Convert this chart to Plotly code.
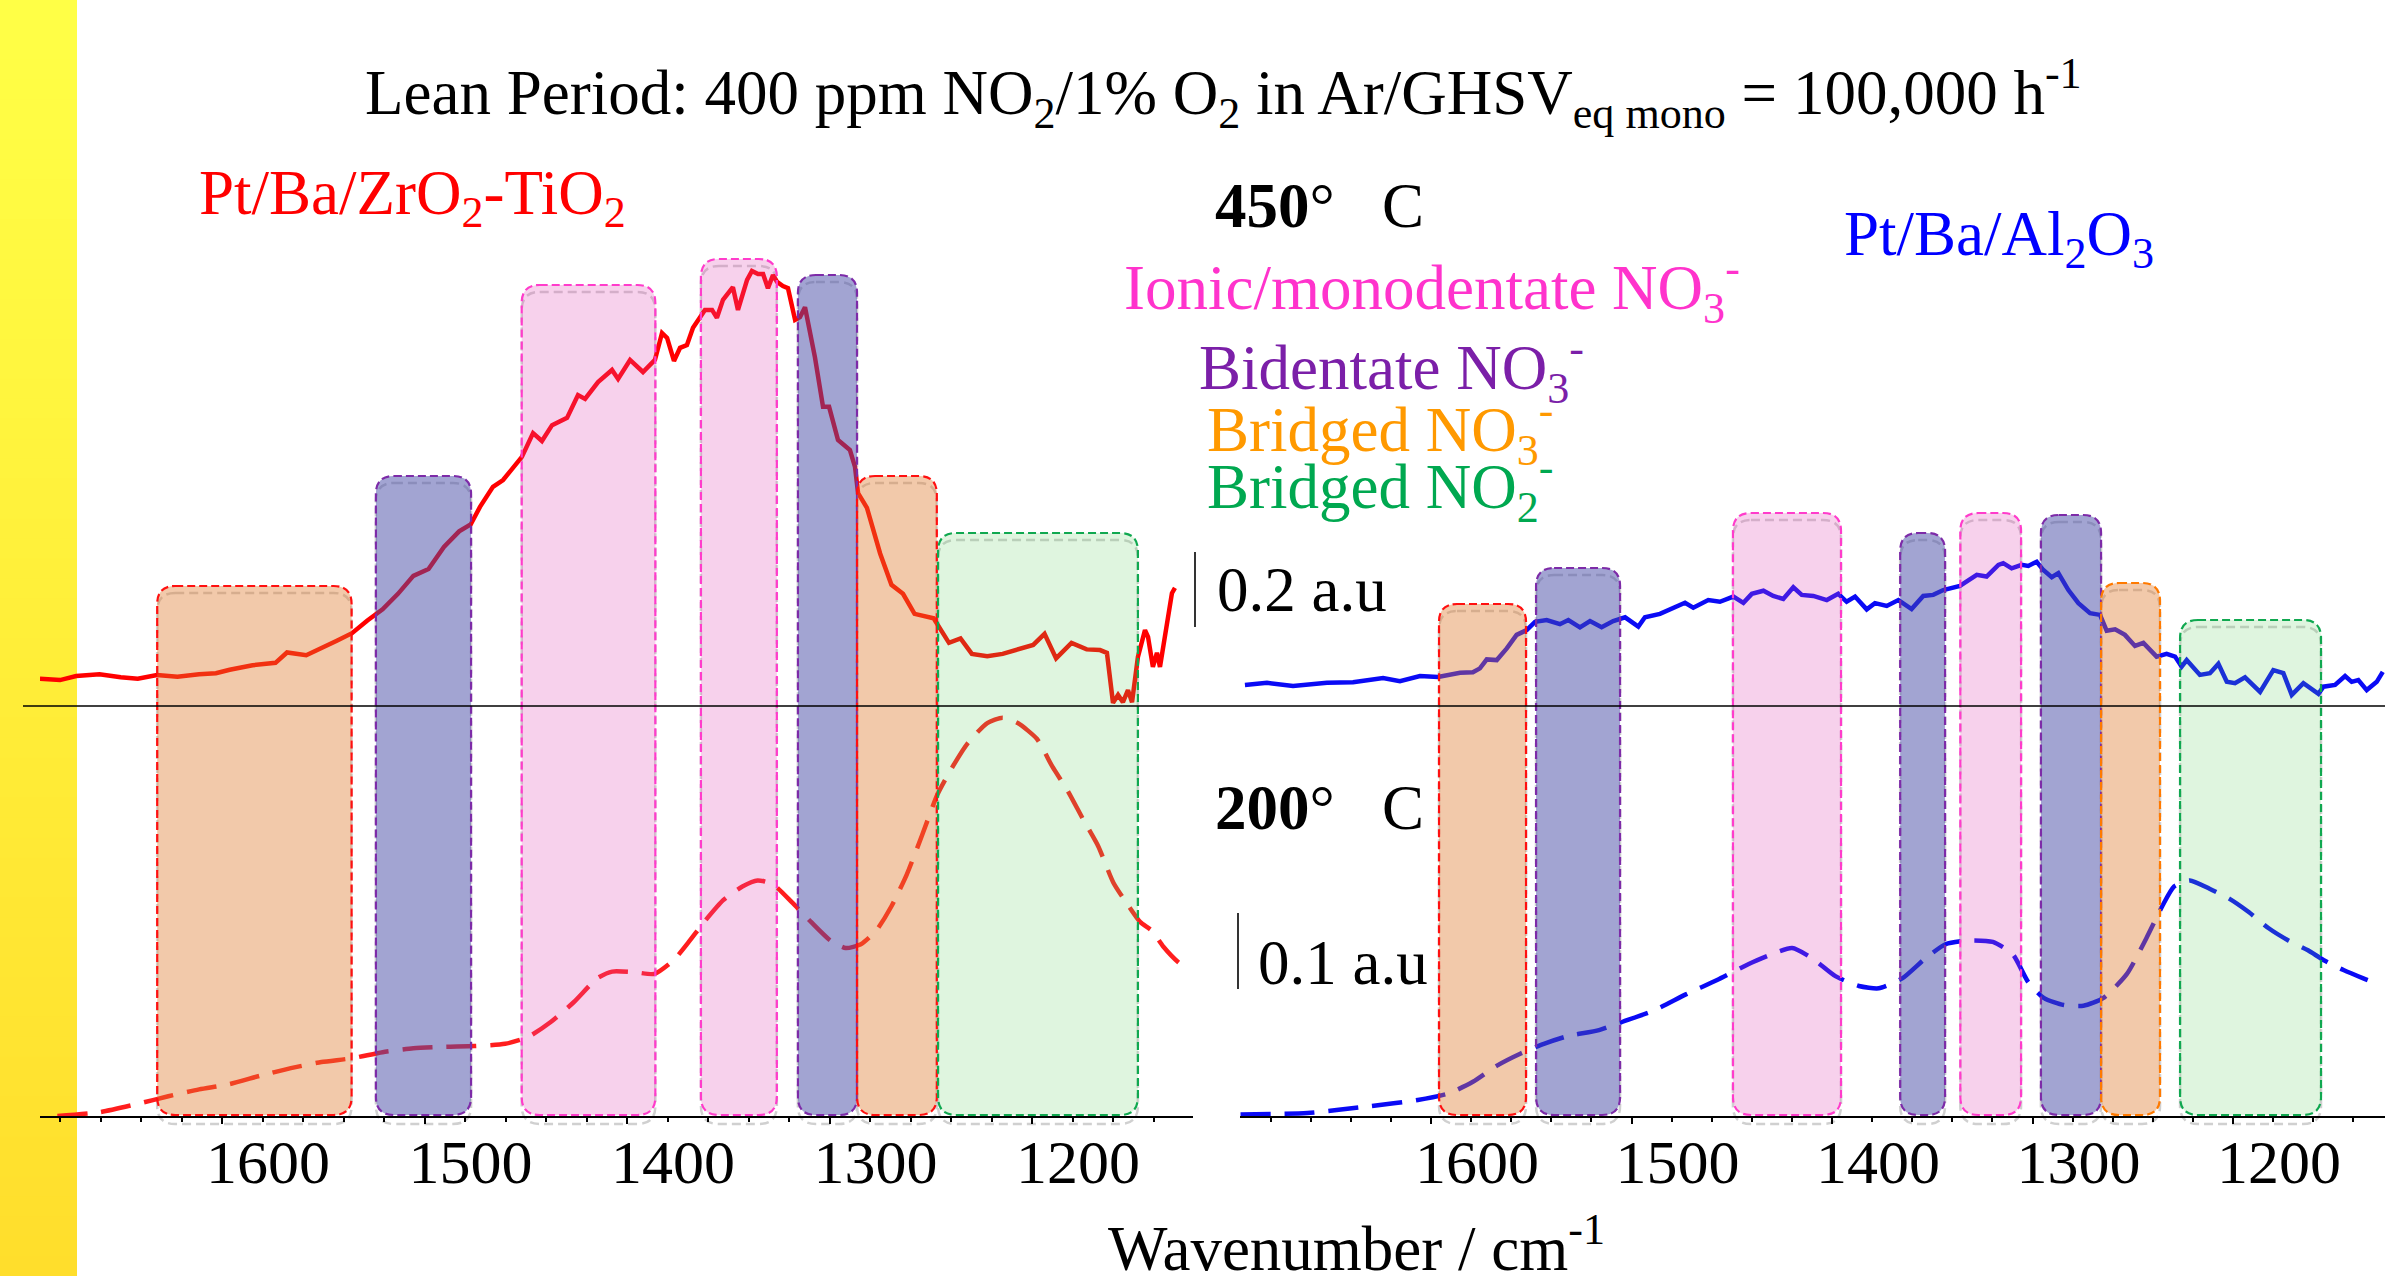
import plotly.graph_objects as go

W, H = 2385, 1276

# ---------------- data ----------------
tick_vals = [1600, 1500, 1400, 1300, 1200]

# Pt/Ba/ZrO2-TiO2, 450 C (solid), absorbance in a.u. (450 C scale)
zt450_wn = [1689.9, 1680.0, 1672.0, 1660.5, 1650.0, 1641.6, 1632.1, 1622.0, 1611.3, 1603.0,
            1596.2, 1584.9, 1573.6, 1567.9, 1558.4, 1550.9, 1543.3, 1535.8, 1528.2, 1520.7,
            1513.1, 1505.5, 1498.0, 1490.4, 1482.9, 1477.2, 1472.6, 1466.2, 1461.2, 1451.9,
            1446.4, 1442.0, 1437.0, 1429.6, 1424.2, 1420.7, 1414.3, 1407.4, 1404.4, 1398.5,
            1392.1, 1386.2, 1382.7, 1380.2, 1376.8, 1373.8, 1370.4, 1367.4, 1361.5, 1358.0,
            1355.6, 1352.6, 1347.7, 1345.2, 1340.7, 1338.3, 1335.3, 1332.8, 1330.4, 1327.9,
            1325.9, 1323.0, 1320.5, 1317.0, 1314.6, 1312.1, 1309.6, 1307.2, 1303.2, 1300.2,
            1295.8, 1289.9, 1287.4, 1285.9, 1281.5, 1275.0, 1269.4, 1263.7, 1258.0, 1252.3,
            1248.6, 1241.0, 1235.3, 1229.7, 1222.1, 1214.5, 1207.0, 1199.4, 1193.8, 1188.1,
            1180.5, 1173.0, 1166.4, 1163.0, 1160.0, 1157.5, 1155.1, 1152.6, 1150.6, 1147.7,
            1144.2, 1142.7, 1140.3, 1138.3, 1136.8, 1133.3, 1130.9, 1129.4]
zt450_abs = [0.082, 0.078, 0.090, 0.095, 0.086, 0.082, 0.093, 0.088, 0.095, 0.098,
             0.108, 0.121, 0.128, 0.158, 0.150, 0.170, 0.192, 0.214, 0.251, 0.283,
             0.328, 0.380, 0.400, 0.464, 0.509, 0.529, 0.580, 0.638, 0.658, 0.725,
             0.794, 0.771, 0.817, 0.838, 0.904, 0.893, 0.942, 0.977, 0.951, 1.006,
             0.971, 1.006, 1.084, 1.070, 1.003, 1.041, 1.049, 1.099, 1.151, 1.151,
             1.128, 1.180, 1.217, 1.151, 1.238, 1.264, 1.255, 1.255, 1.214, 1.252,
             1.232, 1.220, 1.214, 1.122, 1.130, 1.159, 1.084, 1.014, 0.870, 0.870,
             0.774, 0.745, 0.696, 0.620, 0.577, 0.445, 0.354, 0.328, 0.270, 0.264,
             0.257, 0.186, 0.199, 0.154, 0.147, 0.154, 0.167, 0.180, 0.212, 0.141,
             0.186, 0.167, 0.165, 0.157, 0.012, 0.035, 0.014, 0.049, 0.014, 0.145,
             0.223, 0.203, 0.116, 0.157, 0.116, 0.232, 0.330, 0.345]

# Pt/Ba/ZrO2-TiO2, 200 C (dashed), absorbance in a.u. (200 C scale)
zt200_wn = [1681.3, 1660.5, 1641.6, 1626.5, 1611.3, 1596.2, 1581.1, 1566.0, 1550.9, 1535.8,
            1520.7, 1505.5, 1490.4, 1475.3, 1460.2, 1448.8, 1437.5, 1426.2, 1414.8, 1407.3,
            1395.9, 1386.5, 1377.0, 1369.5, 1362.0, 1352.5, 1343.0, 1335.5, 1328.0, 1318.5,
            1309.0, 1299.6, 1292.0, 1284.5, 1276.9, 1269.4, 1261.8, 1254.2, 1246.7, 1239.1,
            1231.6, 1222.1, 1214.5, 1207.0, 1197.5, 1190.0, 1182.4, 1174.9, 1167.3, 1159.8,
            1152.2, 1146.5, 1140.9, 1135.2, 1127.6, 1122.0]
zt200_abs = [0.000, 0.005, 0.016, 0.026, 0.035, 0.042, 0.053, 0.063, 0.071, 0.076,
             0.084, 0.089, 0.091, 0.092, 0.095, 0.104, 0.124, 0.150, 0.181, 0.190,
             0.189, 0.187, 0.205, 0.229, 0.255, 0.284, 0.302, 0.310, 0.305, 0.281,
             0.255, 0.231, 0.221, 0.226, 0.244, 0.276, 0.318, 0.370, 0.423, 0.460,
             0.491, 0.517, 0.524, 0.517, 0.496, 0.460, 0.428, 0.391, 0.355, 0.307,
             0.276, 0.255, 0.244, 0.223, 0.202, 0.192]

# Pt/Ba/Al2O3, 450 C (solid)
al450_wn = [1692.8, 1681.8, 1668.8, 1651.9, 1638.9, 1623.9, 1615.5, 1605.5, 1596.5, 1585.5,
            1579.1, 1575.6, 1572.2, 1567.2, 1562.2, 1557.3, 1552.3, 1548.1, 1542.3, 1535.7,
            1531.5, 1525.7, 1520.7, 1514.9, 1509.1, 1503.2, 1496.6, 1493.3, 1485.8, 1479.2,
            1473.3, 1469.2, 1461.7, 1455.9, 1449.2, 1444.2, 1440.0, 1434.2, 1429.3, 1424.3,
            1419.3, 1415.1, 1409.3, 1402.6, 1396.9, 1392.7, 1388.5, 1382.7, 1378.6, 1372.7,
            1366.9, 1360.3, 1354.5, 1349.5, 1344.5, 1336.2, 1327.8, 1322.9, 1317.0, 1314.6,
            1310.4, 1305.4, 1302.1, 1297.9, 1294.6, 1290.4, 1287.1, 1282.1, 1277.1, 1271.3,
            1266.3, 1263.0, 1258.8, 1253.9, 1248.9, 1244.7, 1238.1, 1233.1, 1228.9, 1225.6,
            1223.1, 1216.5, 1211.5, 1207.3, 1203.1, 1199.0, 1194.0, 1186.5, 1179.9, 1174.9,
            1170.7, 1164.9, 1157.4, 1154.9, 1149.1, 1144.1, 1140.8, 1137.5, 1133.3, 1128.3,
            1125.3]
al450_abs = [0.064, 0.070, 0.061, 0.070, 0.072, 0.084, 0.075, 0.090, 0.087, 0.099,
             0.101, 0.112, 0.138, 0.136, 0.170, 0.209, 0.223, 0.247, 0.252, 0.240,
             0.252, 0.231, 0.249, 0.231, 0.249, 0.260, 0.233, 0.260, 0.270, 0.286,
             0.302, 0.288, 0.310, 0.305, 0.320, 0.302, 0.328, 0.337, 0.322, 0.313,
             0.347, 0.325, 0.322, 0.310, 0.328, 0.305, 0.320, 0.283, 0.301, 0.293,
             0.310, 0.284, 0.322, 0.325, 0.339, 0.351, 0.383, 0.378, 0.412, 0.417,
             0.402, 0.412, 0.409, 0.421, 0.397, 0.376, 0.388, 0.339, 0.301, 0.272,
             0.267, 0.221, 0.225, 0.209, 0.177, 0.186, 0.146, 0.154, 0.146, 0.117,
             0.136, 0.093, 0.098, 0.125, 0.073, 0.069, 0.086, 0.044, 0.107, 0.098,
             0.035, 0.069, 0.038, 0.059, 0.064, 0.090, 0.073, 0.078, 0.049, 0.073,
             0.102]

# Pt/Ba/Al2O3, 200 C (dashed)
al200_wn = [1695.0, 1661.6, 1630.1, 1606.6, 1590.9, 1579.1, 1567.3, 1555.5, 1543.7, 1531.9,
            1516.2, 1504.4, 1488.7, 1472.9, 1457.3, 1441.5, 1429.8, 1419.9, 1410.1, 1398.3,
            1386.6, 1376.7, 1365.0, 1353.2, 1343.3, 1331.6, 1319.8, 1309.9, 1302.1, 1294.2,
            1284.4, 1274.6, 1264.8, 1252.9, 1243.2, 1235.3, 1229.4, 1221.5, 1211.7, 1201.9,
            1192.0, 1182.2, 1172.4, 1162.6, 1154.7, 1144.9, 1135.0, 1127.2]
al200_abs = [0.002, 0.004, 0.013, 0.021, 0.030, 0.045, 0.066, 0.082, 0.095, 0.105,
             0.113, 0.124, 0.139, 0.160, 0.179, 0.200, 0.213, 0.221, 0.208, 0.184,
             0.171, 0.168, 0.181, 0.208, 0.226, 0.231, 0.229, 0.213, 0.176, 0.155,
             0.146, 0.145, 0.155, 0.187, 0.234, 0.276, 0.302, 0.310, 0.299, 0.286,
             0.268, 0.247, 0.231, 0.218, 0.205, 0.192, 0.181, 0.173]

# band assignments (wavenumber ranges, cm-1)
left_band_hi = [1632.0, 1524.0, 1452.0, 1363.5, 1315.6, 1286.4, 1246.4]
left_band_lo = [1536.0, 1477.0, 1386.0, 1326.0, 1286.4, 1247.0, 1147.7]
left_band_kind = ["bno3", "bid", "ion", "ion", "bid", "bno3", "bno2"]
right_band_hi = [1596.0, 1547.6, 1449.4, 1366.0, 1336.0, 1295.8, 1265.8, 1226.4]
right_band_lo = [1552.6, 1505.7, 1395.5, 1343.6, 1305.7, 1265.8, 1236.4, 1156.1]
right_band_kind = ["bno3", "bid", "ion", "bid", "ion", "bid", "bno3", "bno2"]

# ---------------- layout geometry (pixels) ----------------
FONT = "Liberation Serif"
TXT = 63
AX_Y = 1117          # bottom axis line
MID_Y = 706          # separating line
L_X0, L_X1 = 40, 1193
R_X0, R_X1 = 1240, 2385
L_T1600, L_PPU = 222, 2.025   # px of 1600 tick, px per cm-1
R_T1600, R_PPU = 1431, 2.005
Z200, S200 = 1116, 760.0      # zero px and px per a.u. (200 C)
Z450, S450 = 707, 345.0       # zero px and px per a.u. (450 C)

left_tops = [586, 476, 285, 259, 275, 476, 533]
right_tops = [604, 568, 513, 533, 513, 515, 583, 620]
left_border = ["#FF1010", None, None, None, None, "#FF1010", None]
right_border = ["#FF1010", None, None, None, None, None, "#FF7A00", None]

kind_fill = {"bno3": "rgba(222,120,42,0.40)", "bid": "rgba(70,74,165,0.50)",
             "ion": "rgba(222,70,180,0.25)", "bno2": "rgba(95,205,95,0.20)"}
kind_line = {"bno3": "#FF1010", "bid": "#7D2BA8", "ion": "#FF3CCB", "bno2": "#10A850"}


def px2paper(px, py):
    return px / W, 1 - py / H


def wn_at(px, t1600, ppu):
    return 1600 - (px - t1600) / ppu


fig = go.Figure()

fig.add_trace(go.Scatter(x=zt450_wn, y=zt450_abs, xaxis="x", yaxis="y2", mode="lines",
                         line=dict(color="#FF0000", width=4.5)))
fig.add_trace(go.Scatter(x=zt200_wn, y=zt200_abs, xaxis="x", yaxis="y", mode="lines",
                         line=dict(color="#FF1E1E", width=4.5, dash="30px,14px", shape="spline", smoothing=0.6)))
fig.add_trace(go.Scatter(x=al450_wn, y=al450_abs, xaxis="x2", yaxis="y2", mode="lines",
                         line=dict(color="#0A0AF5", width=4.5)))
fig.add_trace(go.Scatter(x=al200_wn, y=al200_abs, xaxis="x2", yaxis="y", mode="lines",
                         line=dict(color="#0A0AF5", width=4.5, dash="30px,14px", shape="spline", smoothing=0.6)))

shapes = []

# yellow gradient bar
nb = 64
c0, c1 = (255, 255, 70), (255, 222, 44)
for i in range(nb):
    t = i / (nb - 1)
    col = tuple(round(c0[k] + (c1[k] - c0[k]) * t) for k in range(3))
    shapes.append(dict(type="rect", xref="paper", yref="paper", layer="below",
                       x0=0, x1=77 / W, y0=1 - (i + 1) * (1 / nb) - 0.001, y1=1 - i * (1 / nb),
                       fillcolor="rgb(%d,%d,%d)" % col, line=dict(width=0)))


def rbox(wl, wr, top_py, bot_py, ppu, r=18):
    rx = r / ppu
    yt, yb, ry = 1 - top_py / H, 1 - bot_py / H, r / H
    return (f"M {wl - rx},{yt} L {wr + rx},{yt} Q {wr},{yt} {wr},{yt - ry} "
            f"L {wr},{yb + ry} Q {wr},{yb} {wr + rx},{yb} L {wl - rx},{yb} "
            f"Q {wl},{yb} {wl},{yb + ry} L {wl},{yt - ry} Q {wl},{yt} {wl - rx},{yt} Z")


def add_bands(his, los, kinds, tops, borders, xref, ppu):
    for hi, lo, k, top, bc in zip(his, los, kinds, tops, borders):
        shapes.append(dict(type="path", xref=xref, yref="paper", layer="below",
                           path=rbox(hi, lo, top + 7, AX_Y + 7, ppu),
                           line=dict(color="#D0D0D0", width=2.5, dash="9px,5px")))
        shapes.append(dict(type="path", xref=xref, yref="paper", layer="above",
                           path=rbox(hi, lo, top, AX_Y - 2, ppu),
                           fillcolor=kind_fill[k],
                           line=dict(color=bc or kind_line[k], width=2.2, dash="8px,4px")))


add_bands(left_band_hi, left_band_lo, left_band_kind, left_tops, left_border, "x", L_PPU)
add_bands(right_band_hi, right_band_lo, right_band_kind, right_tops, right_border, "x2", R_PPU)

shapes.append(dict(type="line", xref="paper", yref="paper", layer="above",
                   x0=23 / W, x1=1, y0=1 - MID_Y / H, y1=1 - MID_Y / H,
                   line=dict(color="black", width=1.6)))
for (bx, by0, by1) in [(1195, 552, 627), (1238, 913, 989)]:
    shapes.append(dict(type="line", xref="paper", yref="paper", x0=bx / W, x1=bx / W,
                       y0=1 - by0 / H, y1=1 - by1 / H, line=dict(color="black", width=1.6)))

anns = []


def ann(text, px, py, color="black", size=TXT, xanchor="left"):
    x, y = px2paper(px, py)
    anns.append(dict(text=text, x=x, y=y, xref="paper", yref="paper", xanchor=xanchor,
                     yanchor="middle", showarrow=False,
                     font=dict(family=FONT, size=size, color=color)))


nb_ = "\u00a0"
ann("Lean Period: 400 ppm NO<sub>2</sub>/1% O<sub>2</sub> in Ar/GHSV<sub>eq mono</sub> = 100,000 h<sup>-1</sup>",
    1223, 93, xanchor="center")
ann("Pt/Ba/ZrO<sub>2</sub>-TiO<sub>2</sub>", 197, 197, color="#FF0000")
ann("<b>450</b>°" + nb_ * 3 + "C", 1213, 206)
ann("Ionic/monodentate NO<sub>3</sub><sup>-</sup>", 1122, 288, color="#FF33CC")
ann("Bidentate NO<sub>3</sub><sup>-</sup>", 1197, 369, color="#7B1FA8")
ann("Bridged NO<sub>3</sub><sup>-</sup>", 1205, 430, color="#FF9900")
ann("Bridged NO<sub>2</sub><sup>-</sup>", 1205, 487, color="#00A850")
ann("Pt/Ba/Al<sub>2</sub>O<sub>3</sub>", 1842, 238, color="#0000FF")
ann("0.2 a.u", 1215, 590)
ann("<b>200</b>°" + nb_ * 3 + "C", 1213, 808)
ann("0.1 a.u", 1256, 963)
ann("Wavenumber / cm<sup>-1</sup>", 1106, 1244)

axis_common = dict(showgrid=False, zeroline=False, showline=True, linecolor="black", linewidth=2,
                   ticks="outside", ticklen=6, tickcolor="black", tickwidth=1.5,
                   tickvals=tick_vals, ticklabelshift=-46, ticklabelstandoff=-15,
                   tickfont=dict(family=FONT, size=62, color="black"),
                   minor=dict(dtick=20, tick0=1600, ticks="outside", ticklen=4, tickcolor="black",
                              showgrid=False),
                   anchor="free", position=1 - AX_Y / H)

fig.update_layout(
    width=W, height=H, margin=dict(l=0, r=0, t=0, b=0),
    paper_bgcolor="white", plot_bgcolor="rgba(0,0,0,0)", showlegend=False,
    xaxis=dict(domain=[L_X0 / W, L_X1 / W],
               range=[wn_at(L_X0, L_T1600, L_PPU), wn_at(L_X1, L_T1600, L_PPU)], **axis_common),
    xaxis2=dict(domain=[R_X0 / W, R_X1 / W],
                range=[wn_at(R_X0, R_T1600, R_PPU), wn_at(R_X1, R_T1600, R_PPU)], **axis_common),
    yaxis=dict(domain=[0, 1], range=[-(H - Z200) / S200, Z200 / S200], visible=False),
    yaxis2=dict(domain=[0, 1], range=[-(H - Z450) / S450, Z450 / S450], visible=False,
                overlaying="y"),
    shapes=shapes, annotations=anns,
)

fig.write_html("out.html", config={"displayModeBar": False},
               post_script="document.body.style.margin='0';")
